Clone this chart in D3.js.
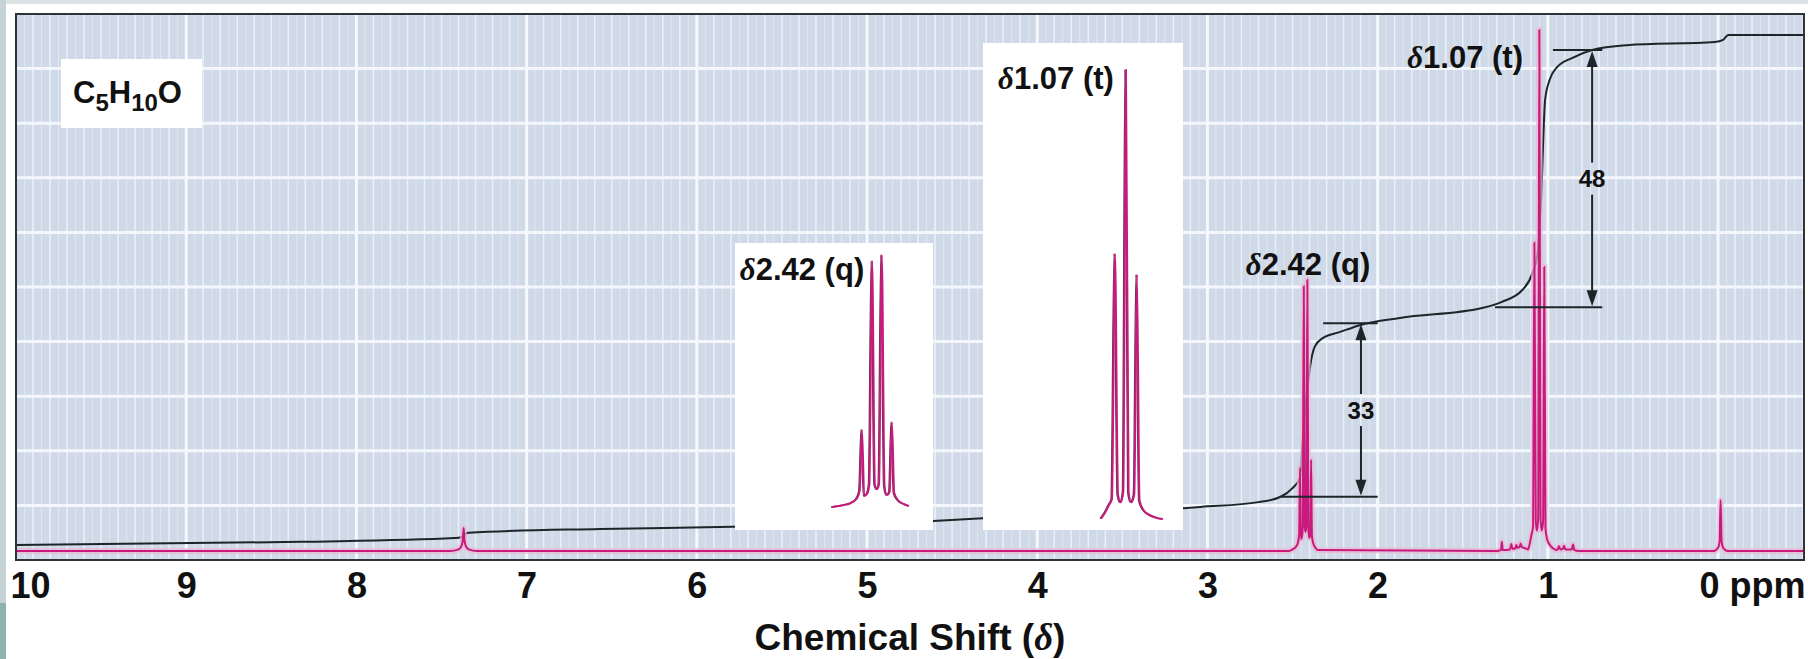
<!DOCTYPE html>
<html>
<head>
  <meta charset="utf-8">
  <script src="https://d3js.org/d3.v7.min.js"></script>
  <style>
    body { margin: 0; background: #fff; }
    svg { display: block; }
  </style>
</head>
<body>
  <div id="nmr"></div>

<script>
  // axis ticks (ppm) and the labels printed under them
  var tickValues = [10, 9, 8, 7, 6, 5, 4, 3, 2, 1, 0];
  var tickLabels = ["10", "9", "8", "7", "6", "5", "4", "3", "2", "1", "0 ppm"];

  // spectrum trace, [ppm, intensity]
  var baselinePts = [[10, 0], [-0.505, 0]];
  var chcl3Pts = [[7.45, 0], [7.40, 0.3], [7.383, 0.9], [7.375, 2], [7.37, 4.3], [7.365, 2], [7.357, 0.9], [7.34, 0.3], [7.29, 0]];
  var quartetPts = [[2.521, 0], [2.50, 0.3], [2.48, 0.8], [2.468, 1.6], [2.461, 3.2], [2.456, 15.5], [2.451, 2.2],
    [2.445, 2.6], [2.440, 4.5], [2.434, 49.3], [2.428, 4.5], [2.4235, 3.6], [2.419, 4.5], [2.413, 50.5],
    [2.407, 4.2], [2.402, 2.4], [2.396, 3.0], [2.391, 17], [2.386, 2.8], [2.378, 1.4], [2.365, 0.6], [2.354, 0.2]];
  var tripletPts = [[1.116, 0.3], [1.105, 1.6], [1.095, 3.2], [1.087, 4.5], [1.079, 57.4], [1.071, 5.5], [1.064, 3.8],
    [1.057, 6], [1.050, 97], [1.043, 6], [1.036, 3.8], [1.028, 5.5], [1.021, 52.9], [1.014, 4.2], [1.004, 2.2],
    [0.99, 1.2], [0.97, 0.5], [0.952, 0.2]];
  var satellitePts = [[1.30, 0], [1.275, 0.2], [1.27, 1.7], [1.265, 0.2], [1.222, 0.3], [1.215, 1.3], [1.208, 0.4],
    [1.19, 0.5], [1.185, 1.1], [1.178, 0.6], [1.165, 0.8], [1.16, 1.4], [1.152, 0.7], [1.13, 0.5],
    [0.942, 0.3], [0.935, 0.9], [0.926, 0.3], [0.912, 0.4], [0.905, 1.0], [0.897, 0.3], [0.86, 0.3],
    [0.852, 1.2], [0.845, 0.2], [0.82, 0]];
  var tmsPts = [[0.025, 0], [0, 0.6], [-0.009, 1.8], [-0.015, 9.5], [-0.021, 1.8], [-0.03, 0.6], [-0.055, 0]];

  // integral curve, [ppm, integral units]
  var integralPts = [[10.0, 1.1], [8.33, 1.7], [7.42, 2.4], [7.38, 2.6], [7.36, 3.2], [7.34, 3.4], [6.57, 4.1],
    [5.79, 4.5], [4.61, 5.6], [4.32, 6.1], [3.04, 8.2], [2.70, 9.1], [2.57, 10.1], [2.50, 11.7], [2.456, 13.6],
    [2.44, 20.7], [2.42, 28.1], [2.397, 34.3], [2.37, 38], [2.32, 39.7], [2.22, 40.8], [2.10, 42.1], [1.87, 43.4],
    [1.38, 45.3], [1.27, 46.4], [1.15, 48.6], [1.09, 51.8], [1.06, 55.5], [1.04, 65.4], [1.016, 84], [0.99, 87.7],
    [0.946, 90.1], [0.858, 91.8], [0.74, 93.3], [0.535, 94.2], [0.018, 94.8], [-0.03, 95.2], [-0.06, 96.1], [-0.505, 96.1]];

  // integration steps: levels, where the guide lines start/end, arrow ppm
  var stepLabels = ["33", "48"];
  var stepLow = [10.1, 45.4];
  var stepHigh = [42.4, 93.3];
  var stepLowFrom = [2.57, 1.31];
  var stepHighFrom = [2.32, 0.97];
  var stepTo = [2.0, 0.68];
  var stepArrowAt = [2.098, 0.74];

  // peak labels on the main trace
  var peakNames = ["2.42 (q)", "1.07 (t)"];
  var peakLabelPpm = [2.409, 1.486];
  var peakLabelLevel = [51.4, 89.9];

  var W = 1808, H = 659;
  var frame = {left: 16, top: 14, right: 1804, bottom: 560};
  var font = "'Liberation Sans', Arial, Helvetica, sans-serif";
  var ink = "#1c2628";
  var magenta = "#c81a7c";

  var svg = d3.select("#nmr").append("svg")
    .attr("width", W)
    .attr("height", H);

  // scanned page edges
  svg.append("rect").attr("x", 0).attr("y", 0).attr("width", W).attr("height", 4).attr("fill", "#dbe3e6");
  svg.append("rect").attr("x", 0).attr("y", 0).attr("width", 6).attr("height", 603).attr("fill", "#c6d3d6");
  svg.append("rect").attr("x", 0).attr("y", 603).attr("width", 6).attr("height", H - 603).attr("fill", "#8fb1b2");

  var x = d3.scaleLinear().domain([10, -0.505]).range([frame.left, frame.right]);
  var y = d3.scaleLinear().domain([0, 100]).range([551, frame.top]);
  var rows = d3.scaleLinear().domain([0, 10]).range([frame.bottom, frame.top]);

  svg.append("defs").append("clipPath").attr("id", "plotclip")
    .append("rect")
      .attr("x", frame.left).attr("y", frame.top)
      .attr("width", frame.right - frame.left).attr("height", frame.bottom - frame.top);

  // chart paper
  var paper = svg.append("g").attr("clip-path", "url(#plotclip)");
  paper.append("rect")
    .attr("x", frame.left).attr("y", frame.top)
    .attr("width", frame.right - frame.left).attr("height", frame.bottom - frame.top)
    .attr("fill", "#cfd9e7");

  paper.selectAll("line.fine")
    .data(d3.range(-10, 202).map(function(i) { return i * 0.05; }))
    .enter().append("line")
      .attr("class", "fine")
      .attr("x1", function(d) { return x(d); }).attr("x2", function(d) { return x(d); })
      .attr("y1", frame.top).attr("y2", frame.bottom)
      .attr("stroke", "#e0e7f0").attr("stroke-width", 1);

  paper.selectAll("line.minor")
    .data(d3.range(-5, 101).map(function(i) { return i * 0.1; }))
    .enter().append("line")
      .attr("class", "minor")
      .attr("x1", function(d) { return x(d); }).attr("x2", function(d) { return x(d); })
      .attr("y1", frame.top).attr("y2", frame.bottom)
      .attr("stroke", "#ebf0f7").attr("stroke-width", 1.4);

  paper.selectAll("line.row")
    .data(d3.range(1, 10))
    .enter().append("line")
      .attr("class", "row")
      .attr("x1", frame.left).attr("x2", frame.right)
      .attr("y1", function(d) { return rows(d); }).attr("y2", function(d) { return rows(d); })
      .attr("stroke", "#f3f7fb").attr("stroke-width", 3);

  paper.selectAll("line.major")
    .data(d3.range(0, 10))
    .enter().append("line")
      .attr("class", "major")
      .attr("x1", function(d) { return x(d); }).attr("x2", function(d) { return x(d); })
      .attr("y1", frame.top).attr("y2", frame.bottom)
      .attr("stroke", "#f5f8fc").attr("stroke-width", 3);

  // integral trace
  var line = d3.line()
    .x(function(d) { return x(d[0]); })
    .y(function(d) { return y(d[1]); })
    .curve(d3.curveMonotoneX);

  paper.append("path")
    .attr("d", line(integralPts))
    .attr("fill", "none").attr("stroke", ink).attr("stroke-width", 2);

  // spectrum trace
  var spectrum = d3.sort(baselinePts.concat(chcl3Pts, quartetPts, satellitePts, tripletPts, tmsPts),
    function(d) { return -d[0]; });

  paper.append("path")
    .attr("d", line(spectrum))
    .attr("fill", "none").attr("stroke", "#eab8d4").attr("stroke-width", 6).attr("opacity", 0.7);
  paper.append("path")
    .attr("d", line(spectrum))
    .attr("fill", "none").attr("stroke", magenta).attr("stroke-width", 2);

  // integration guides with double arrows
  function arrowHead(g, ax, tipY, dir) {
    g.append("path")
      .attr("d", "M" + ax + "," + tipY + "L" + (ax - 5.5) + "," + (tipY + dir * 16) + "L" + (ax + 5.5) + "," + (tipY + dir * 16) + "Z")
      .attr("fill", ink);
  }

  stepLabels.forEach(function(lbl, i) {
    var g = svg.append("g");
    var yLo = y(stepLow[i]), yHi = y(stepHigh[i]), ax = x(stepArrowAt[i]);
    var mid = (yLo + yHi) / 2;
    g.append("line").attr("x1", x(stepLowFrom[i])).attr("x2", x(stepTo[i]))
      .attr("y1", yLo).attr("y2", yLo).attr("stroke", ink).attr("stroke-width", 2);
    g.append("line").attr("x1", x(stepHighFrom[i])).attr("x2", x(stepTo[i]))
      .attr("y1", yHi).attr("y2", yHi).attr("stroke", ink).attr("stroke-width", 2);
    g.append("line").attr("x1", ax).attr("x2", ax).attr("y1", yHi + 10).attr("y2", mid - 16)
      .attr("stroke", ink).attr("stroke-width", 2);
    g.append("line").attr("x1", ax).attr("x2", ax).attr("y1", mid + 16).attr("y2", yLo - 10)
      .attr("stroke", ink).attr("stroke-width", 2);
    arrowHead(g, ax, yHi + 1, 1);
    arrowHead(g, ax, yLo - 1, -1);
    g.append("text")
      .attr("x", ax).attr("y", mid + 8.5)
      .attr("text-anchor", "middle")
      .style("font-family", font).style("font-weight", "bold").style("font-size", "24px")
      .attr("fill", "#111")
      .text(lbl);
  });

  function deltaLabel(g, cx, by, txt) {
    var t = g.append("text")
      .attr("x", cx).attr("y", by)
      .attr("text-anchor", "middle")
      .style("font-family", font).style("font-weight", "bold").style("font-size", "31px")
      .attr("fill", "#111");
    t.append("tspan")
      .style("font-family", "'Liberation Serif', 'DejaVu Serif', serif")
      .style("font-style", "italic")
      .text("\u03b4");
    t.append("tspan").text(txt);
  }

  peakNames.forEach(function(n, i) {
    deltaLabel(svg, x(peakLabelPpm[i]), y(peakLabelLevel[i]), n);
  });

  // expanded insets of the two multiplets
  var insets = [
    {box: [735, 243, 198, 287], span: [832, 909], base: 507, scale: 4.99, pts: quartetPts, label: "2.42 (q)", lx: 802, ly: 280},
    {box: [983, 43, 200, 487], span: [1101, 1163], base: 520, scale: 4.64, pts: tripletPts, label: "1.07 (t)", lx: 1056, ly: 89}
  ];

  insets.forEach(function(ins) {
    var g = svg.append("g");
    g.append("rect")
      .attr("x", ins.box[0]).attr("y", ins.box[1])
      .attr("width", ins.box[2]).attr("height", ins.box[3])
      .attr("fill", "#fff");
    var ix = d3.scaleLinear().domain(d3.extent(ins.pts, function(d) { return d[0]; }).reverse()).range(ins.span);
    var iy = d3.scaleLinear().domain([0, 100]).range([ins.base, ins.base - 100 * ins.scale]);
    var iline = d3.line()
      .x(function(d) { return ix(d[0]); })
      .y(function(d) { return iy(d[1]); })
      .curve(d3.curveMonotoneX);
    g.append("path")
      .attr("d", iline(ins.pts))
      .attr("transform", "translate(-1,0)")
      .attr("fill", "none").attr("stroke", "#5b3a50").attr("stroke-width", 1.3);
    g.append("path")
      .attr("d", iline(ins.pts))
      .attr("fill", "none").attr("stroke", magenta).attr("stroke-width", 2);
    deltaLabel(g, ins.lx, ins.ly, ins.label);
  });

  // molecular formula box
  svg.append("rect").attr("x", 61).attr("y", 59).attr("width", 141).attr("height", 69).attr("fill", "#fff");
  var formula = svg.append("text")
    .attr("x", 73).attr("y", 103)
    .style("font-family", font).style("font-weight", "bold").style("font-size", "31px")
    .attr("fill", "#111");
  [["C", 0], ["5", 1], ["H", 0], ["10", 1], ["O", 0]].forEach(function(p, i, arr) {
    var prev = i > 0 ? arr[i - 1][1] : 0;
    formula.append("tspan")
      .attr("dy", (p[1] - prev) * 8)
      .style("font-size", p[1] ? "24px" : "31px")
      .text(p[0]);
  });

  // frame
  svg.append("rect")
    .attr("x", frame.left).attr("y", frame.top)
    .attr("width", frame.right - frame.left).attr("height", frame.bottom - frame.top)
    .attr("fill", "none").attr("stroke", "#2e3436").attr("stroke-width", 2);

  // ppm axis labels
  var axis = svg.append("g")
    .attr("transform", "translate(0," + frame.bottom + ")")
    .call(d3.axisBottom(x)
      .tickValues(tickValues)
      .tickSize(0)
      .tickPadding(12)
      .tickFormat(function(d, i) { return tickLabels[i]; }));
  axis.select(".domain").remove();
  axis.selectAll("text")
    .style("font-family", font).style("font-weight", "bold").style("font-size", "36px")
    .attr("fill", "#111");
  axis.selectAll(".tick").filter(function(d) { return d === 10; }).select("text")
    .attr("text-anchor", "start").attr("x", -6);
  axis.selectAll(".tick").filter(function(d) { return d === 0; }).select("text")
    .attr("text-anchor", "end").attr("x", frame.right + 1 - x(0));

  // axis title
  var title = svg.append("text")
    .attr("x", (frame.left + frame.right) / 2).attr("y", 650)
    .attr("text-anchor", "middle")
    .style("font-family", font).style("font-weight", "bold").style("font-size", "37px")
    .attr("fill", "#111");
  title.append("tspan").text("Chemical Shift (");
  title.append("tspan")
    .style("font-family", "'Liberation Serif', 'DejaVu Serif', serif")
    .style("font-style", "italic")
    .text("\u03b4");
  title.append("tspan").text(")");
</script>
</body>
</html>
